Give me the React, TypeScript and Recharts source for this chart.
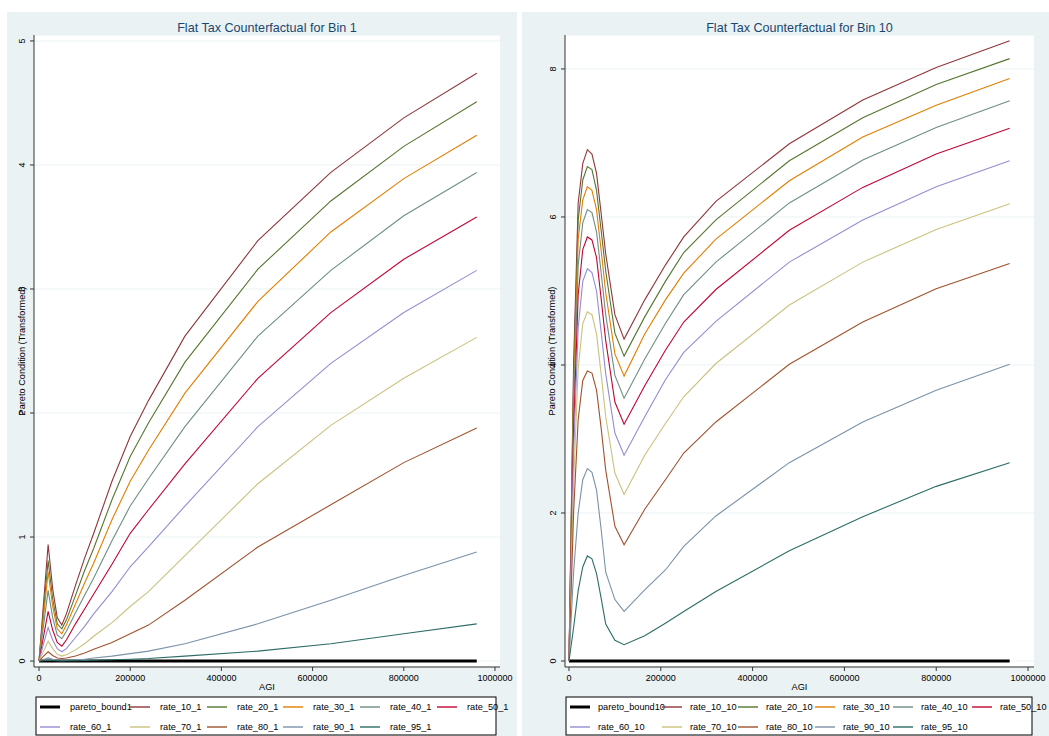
import React from 'react';
import { LineChart, Line, XAxis, YAxis, CartesianGrid } from 'recharts';

const FONT = '"Liberation Sans", Arial, Helvetica, sans-serif';

// ---------- Bin 1 data ----------
const agi1 = [0, 10000, 20000, 30000, 40000, 50000, 60000, 80000, 100000, 120000, 160000, 200000, 240000, 320000, 480000, 640000, 800000, 960000];
const pareto1 = [0, 0, 0, 0, 0, 0, 0, 0, 0, 0, 0, 0, 0, 0, 0, 0, 0, 0];
const r10_1 = [0, 0.47, 0.94, 0.58, 0.35, 0.29, 0.38, 0.61, 0.83, 1.03, 1.45, 1.81, 2.10, 2.62, 3.39, 3.94, 4.38, 4.74];
const r20_1 = [0, 0.41, 0.81, 0.50, 0.30, 0.26, 0.33, 0.53, 0.73, 0.91, 1.30, 1.65, 1.92, 2.41, 3.16, 3.71, 4.15, 4.51];
const r30_1 = [0, 0.36, 0.72, 0.44, 0.26, 0.22, 0.29, 0.46, 0.63, 0.79, 1.14, 1.45, 1.70, 2.16, 2.90, 3.46, 3.89, 4.24];
const r40_1 = [0, 0.29, 0.57, 0.35, 0.21, 0.18, 0.24, 0.39, 0.53, 0.67, 0.97, 1.25, 1.47, 1.89, 2.62, 3.15, 3.59, 3.94];
const r50_1 = [0, 0.20, 0.40, 0.25, 0.15, 0.12, 0.17, 0.30, 0.42, 0.54, 0.78, 1.03, 1.22, 1.59, 2.28, 2.81, 3.24, 3.58];
const r60_1 = [0, 0.14, 0.27, 0.17, 0.10, 0.075, 0.10, 0.19, 0.28, 0.38, 0.56, 0.76, 0.92, 1.25, 1.89, 2.40, 2.81, 3.15];
const r70_1 = [0, 0.08, 0.16, 0.10, 0.055, 0.04, 0.05, 0.09, 0.14, 0.20, 0.31, 0.44, 0.56, 0.85, 1.43, 1.90, 2.28, 2.61];
const r80_1 = [0, 0.04, 0.075, 0.045, 0.025, 0.02, 0.025, 0.04, 0.065, 0.095, 0.15, 0.22, 0.29, 0.49, 0.92, 1.26, 1.60, 1.88];
const r90_1 = [0, 0.012, 0.025, 0.015, 0.008, 0.006, 0.007, 0.01, 0.015, 0.025, 0.04, 0.06, 0.08, 0.14, 0.30, 0.49, 0.69, 0.88];
const r95_1 = [0, 0.003, 0.006, 0.004, 0.002, 0.001, 0.002, 0.003, 0.004, 0.006, 0.01, 0.015, 0.02, 0.04, 0.08, 0.14, 0.22, 0.30];

// ---------- Bin 10 data ----------
const agi10 = [0, 10000, 20000, 30000, 40000, 50000, 60000, 70000, 80000, 100000, 120000, 165000, 210000, 250000, 320000, 480000, 640000, 800000, 960000];
const pareto10 = [0, 0, 0, 0, 0, 0, 0, 0, 0, 0, 0, 0, 0, 0, 0, 0, 0, 0, 0];
const r10_10 = [0, 4.0, 6.19, 6.72, 6.91, 6.85, 6.59, 6.05, 5.50, 4.68, 4.35, 4.88, 5.35, 5.73, 6.21, 6.99, 7.58, 8.02, 8.38];
const r20_10 = [0, 3.8, 5.96, 6.50, 6.68, 6.64, 6.36, 5.82, 5.27, 4.43, 4.12, 4.65, 5.13, 5.52, 5.96, 6.76, 7.34, 7.79, 8.14];
const r30_10 = [0, 3.6, 5.70, 6.23, 6.41, 6.36, 6.10, 5.55, 4.98, 4.15, 3.85, 4.42, 4.88, 5.24, 5.70, 6.49, 7.08, 7.51, 7.87];
const r40_10 = [0, 3.4, 5.35, 5.92, 6.10, 6.06, 5.80, 5.25, 4.68, 3.86, 3.55, 4.08, 4.56, 4.95, 5.39, 6.19, 6.77, 7.21, 7.57];
const r50_10 = [0, 3.1, 4.95, 5.56, 5.73, 5.69, 5.45, 4.90, 4.33, 3.50, 3.20, 3.72, 4.20, 4.58, 5.02, 5.82, 6.40, 6.85, 7.20];
const r60_10 = [0, 2.8, 4.50, 5.13, 5.30, 5.25, 5.00, 4.45, 3.88, 3.08, 2.78, 3.30, 3.80, 4.17, 4.59, 5.39, 5.96, 6.41, 6.76];
const r70_10 = [0, 2.4, 3.95, 4.56, 4.72, 4.68, 4.42, 3.88, 3.30, 2.54, 2.25, 2.78, 3.21, 3.57, 4.02, 4.81, 5.39, 5.83, 6.18];
const r80_10 = [0, 2.0, 3.26, 3.79, 3.92, 3.89, 3.66, 3.15, 2.58, 1.82, 1.57, 2.05, 2.45, 2.81, 3.23, 4.01, 4.58, 5.03, 5.37];
const r90_10 = [0, 1.2, 2.00, 2.45, 2.60, 2.55, 2.31, 1.78, 1.20, 0.83, 0.67, 0.96, 1.23, 1.55, 1.96, 2.68, 3.23, 3.66, 4.01];
const r95_10 = [0, 0.45, 0.95, 1.27, 1.42, 1.38, 1.18, 0.85, 0.50, 0.28, 0.22, 0.34, 0.51, 0.67, 0.94, 1.49, 1.95, 2.36, 2.68];

// ---------- labels / ticks ----------
const xTicks = [0, 200000, 400000, 600000, 800000, 1000000];
const yTicks1 = [0, 1, 2, 3, 4, 5];
const yTicks10 = [0, 2, 4, 6, 8];
const rateKeys = ['rate_10', 'rate_20', 'rate_30', 'rate_40', 'rate_50', 'rate_60', 'rate_70', 'rate_80', 'rate_90', 'rate_95'];
const rateColors = ['#90353b', '#55752f', '#e37e00', '#6e8e84', '#c10534', '#938dd2', '#cac27e', '#a0522d', '#7b92a8', '#2d6d66'];
const legend1 = ['pareto_bound1', 'rate_10_1', 'rate_20_1', 'rate_30_1', 'rate_40_1', 'rate_50_1', 'rate_60_1', 'rate_70_1', 'rate_80_1', 'rate_90_1', 'rate_95_1'];
const legend10 = ['pareto_bound10', 'rate_10_10', 'rate_20_10', 'rate_30_10', 'rate_40_10', 'rate_50_10', 'rate_60_10', 'rate_70_10', 'rate_80_10', 'rate_90_10', 'rate_95_10'];
const title1 = 'Flat Tax Counterfactual for Bin 1';
const title10 = 'Flat Tax Counterfactual for Bin 10';
const xTitle = 'AGI';
const yTitle = 'Pareto Condition (Transformed)';

const build = (agi: number[], pareto: number[], rates: number[][]) =>
  agi.map((a, i) => {
    const row: any = { agi: a, pareto: pareto[i] };
    rateKeys.forEach((k, j) => { row[k] = rates[j][i]; });
    return row;
  });

const data1 = build(agi1, pareto1, [r10_1, r20_1, r30_1, r40_1, r50_1, r60_1, r70_1, r80_1, r90_1, r95_1]);
const data10 = build(agi10, pareto10, [r10_10, r20_10, r30_10, r40_10, r50_10, r60_10, r70_10, r80_10, r90_10, r95_10]);

function YTick(props: any) {
  const { x, y, payload } = props;
  return (
    <text x={x} y={y} transform={`rotate(-90 ${x} ${y})`} textAnchor="middle" fontSize={9} fill="#000" fontFamily={FONT}>
      {payload.value}
    </text>
  );
}

const CH = 736;
const Y_AXIS_W = 26;

function Panel(p: { left: number; width: number; plotLeft: number; plotRight: number; data: any[]; xDomain: number[]; yDomain: number[]; yTicks: number[] }) {
  const margin = { top: 35, right: p.left + p.width - p.plotRight, left: p.plotLeft - p.left - Y_AXIS_W, bottom: 39 };
  return (
    <div style={{ position: 'absolute', left: p.left, top: 0 }}>
      <LineChart width={p.width} height={CH} data={p.data} margin={margin} style={{ fontFamily: FONT }}>
        <CartesianGrid vertical={false} stroke="#eaf2f3" fill="#ffffff" fillOpacity={1} />
        <XAxis dataKey="agi" type="number" domain={p.xDomain} ticks={xTicks} allowDataOverflow interval={0}
          height={30} tickSize={4} tickMargin={4} stroke="#333" tick={{ fontSize: 9, fill: '#000', fontFamily: FONT }} />
        <YAxis type="number" domain={p.yDomain} ticks={p.yTicks} allowDataOverflow interval={0}
          width={Y_AXIS_W} tickSize={4} tickMargin={5} stroke="#333" tick={<YTick />} />
        <Line type="linear" dataKey="pareto" stroke="#000" strokeWidth={3} dot={false} isAnimationActive={false} />
        {rateKeys.map((k, i) => (
          <Line key={k} type="linear" dataKey={k} stroke={rateColors[i]} strokeWidth={1.1} dot={false} isAnimationActive={false} />
        ))}
      </LineChart>
    </div>
  );
}

function Legend(p: { bx: number; bw: number; cols: number[]; labelOff: number; labels: string[] }) {
  const rows = [707, 727];
  const items = p.labels.map((lab, i) => {
    const row = i < 6 ? 0 : 1;
    const col = i < 6 ? i : i - 6;
    const x = p.cols[col];
    const y = rows[row];
    const color = i === 0 ? '#000' : rateColors[i - 1];
    return (
      <g key={lab}>
        <line x1={x} x2={x + 20} y1={y} y2={y} stroke={color} strokeWidth={i === 0 ? 3 : 1.4} />
        <text x={x + p.labelOff} y={y + 3.3} fontSize={9.2} fill="#000" fontFamily={FONT}>{lab}</text>
      </g>
    );
  });
  return (
    <g>
      <rect x={p.bx} y={697} width={p.bw} height={38} fill="#ffffff" stroke="#000" strokeWidth={1} />
      {items}
    </g>
  );
}

export default function App() {
  return (
    <div style={{ position: 'absolute', left: 0, top: 0, width: 1049, height: 736, background: '#ffffff', fontFamily: FONT }}>
      <div style={{ position: 'absolute', left: 7, top: 12, width: 510, height: 724, background: '#eaf2f3' }} />
      <div style={{ position: 'absolute', left: 522, top: 12, width: 527, height: 724, background: '#eaf2f3' }} />
      <Panel left={0} width={520} plotLeft={34} plotRight={500} data={data1}
        xDomain={[-11000, 1011000]} yDomain={[-0.048, 5.048]} yTicks={yTicks1} />
      <Panel left={520} width={529} plotLeft={565} plotRight={1034} data={data10}
        xDomain={[-8700, 1013000]} yDomain={[-0.081, 8.459]} yTicks={yTicks10} />
      <svg width={1049} height={736} style={{ position: 'absolute', left: 0, top: 0, overflow: 'visible', pointerEvents: 'none' }}>
        <text x={267} y={31.5} textAnchor="middle" fontSize={12.6} fill="#1a476f" fontFamily={FONT}>{title1}</text>
        <text x={799.5} y={31.5} textAnchor="middle" fontSize={12.6} fill="#1a476f" fontFamily={FONT}>{title10}</text>
        <text x={267} y={690} textAnchor="middle" fontSize={9.2} fill="#000" fontFamily={FONT}>{xTitle}</text>
        <text x={799.5} y={690} textAnchor="middle" fontSize={9.2} fill="#000" fontFamily={FONT}>{xTitle}</text>
        <text x={25.3} y={351} transform="rotate(-90 25.3 351)" textAnchor="middle" fontSize={9.2} fill="#000" fontFamily={FONT}>{yTitle}</text>
        <text x={555.3} y={351} transform="rotate(-90 555.3 351)" textAnchor="middle" fontSize={9.2} fill="#000" fontFamily={FONT}>{yTitle}</text>
        <Legend bx={36} bw={460} cols={[40, 130, 207, 283, 360, 437]} labelOff={30} labels={legend1} />
        <Legend bx={566} bw={466} cols={[570, 662, 738, 815, 893, 972]} labelOff={28} labels={legend10} />
      </svg>
    </div>
  );
}
